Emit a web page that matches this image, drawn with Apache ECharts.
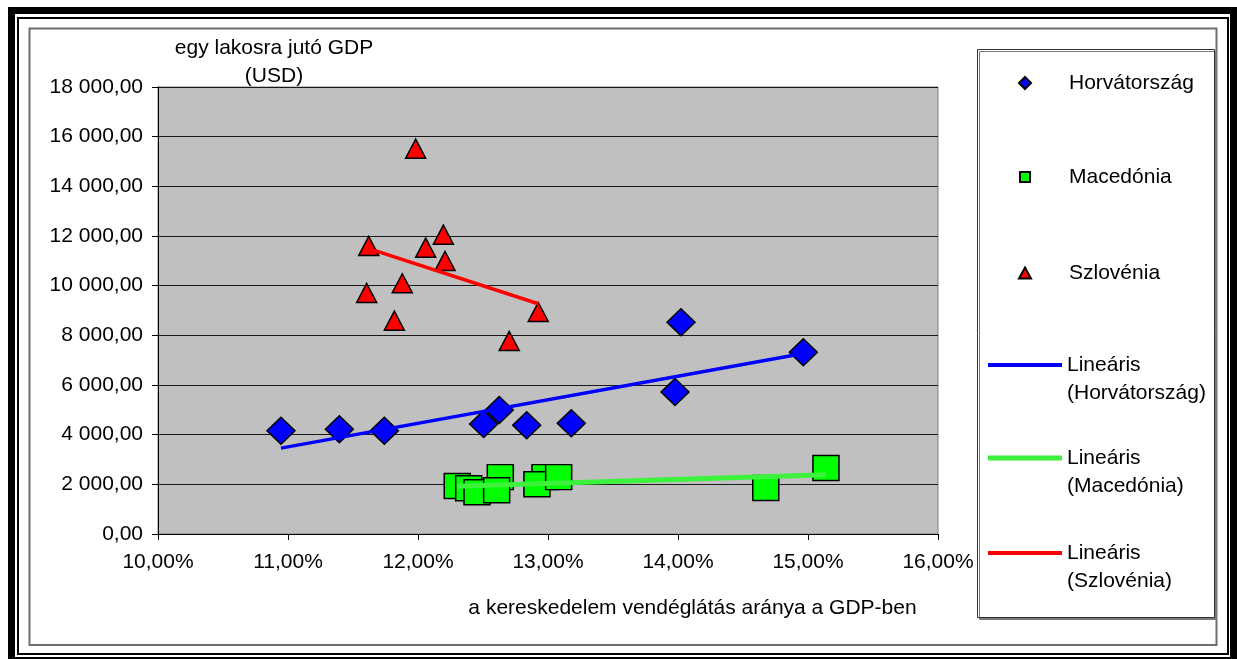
<!DOCTYPE html>
<html>
<head>
<meta charset="utf-8">
<script src="https://cdn.jsdelivr.net/npm/echarts@6/dist/echarts.min.js"></script>
<style>
html,body{margin:0;padding:0;background:#fff;}
#chart{width:1237px;height:659px;}
</style>
</head>
<body>
<div id="chart"></div>
<script>
// ---- data (x: share of trade & hospitality in GDP, %; y: GDP per capita, USD) ----
const horvX = [10.946, 11.395, 11.741, 12.505, 12.625, 12.836, 13.179, 14.023, 13.977, 14.964];
const horvY = [4160, 4216, 4160, 4430, 4993, 4377, 4458, 8525, 5718, 7317];
const macX  = [12.302, 12.390, 12.454, 12.633, 12.605, 12.977, 12.915, 13.082, 14.675, 15.138];
const macY  = [1935, 1840, 1680, 2290, 1760, 2290, 2000, 2290, 1850, 2660];
const szloX = [11.982, 11.621, 12.059, 12.195, 12.208, 11.879, 11.605, 11.818, 12.925, 12.702];
const szloY = [15516, 11598, 11529, 12053, 10994, 10096, 9705, 8590, 8940, 7772];

const seriesNames = ['Horvátország', 'Macedónia', 'Szlovénia'];
const trendNames = ['Lineáris\n(Horvátország)', 'Lineáris\n(Macedónia)', 'Lineáris\n(Szlovénia)'];

const xTickLabels = ['10,00%', '11,00%', '12,00%', '13,00%', '14,00%', '15,00%', '16,00%'];
const yTickLabels = ['0,00', '2 000,00', '4 000,00', '6 000,00', '8 000,00', '10 000,00',
                     '12 000,00', '14 000,00', '16 000,00', '18 000,00'];
const xMin = 10, xMax = 16, xStep = 1;
const yMin = 0, yMax = 18000, yStep = 2000;

const yAxisTitle = 'egy lakosra jutó GDP\n(USD)';
const xAxisTitle = 'a kereskedelem vendéglátás aránya a GDP-ben';

// least-squares linear trend (Excel "Lineáris" trendline), drawn between min and max x
function linearTrend(xs, ys) {
  const n = xs.length;
  const mx = xs.reduce((a, b) => a + b, 0) / n;
  const my = ys.reduce((a, b) => a + b, 0) / n;
  let sxy = 0, sxx = 0;
  for (let i = 0; i < n; i++) { sxy += (xs[i] - mx) * (ys[i] - my); sxx += (xs[i] - mx) * (xs[i] - mx); }
  const b = sxy / sxx, a = my - b * mx;
  const x0 = Math.min(...xs), x1 = Math.max(...xs);
  return [[x0, a + b * x0], [x1, a + b * x1]];
}
const zip = (xs, ys) => xs.map((x, i) => [x, ys[i]]);

const FONT = '"Liberation Sans", Arial, sans-serif';
const FS = 21;
const TEXT_X = 1068;

const chart = echarts.init(document.getElementById('chart'), null, {renderer: 'canvas'});

// legend for a marker series: small symbol centred at (1024, cy), text starting at TEXT_X
function markerLegend(name, icon, w, h, cy) {
  const left = 1024 - w / 2;
  return {
    data: [{name: name, icon: icon}],
    orient: 'vertical',
    left: left,
    top: cy - 14,
    padding: 0,
    itemWidth: w,
    itemHeight: h,
    itemGap: 0,
    selectedMode: false,
    textStyle: {
      fontFamily: FONT, fontSize: FS, color: '#000', lineHeight: 28,
      padding: [0, 0, 0, TEXT_X - (left + w + 5)]
    }
  };
}
// legend for a trend line: line from x=988 to 1062 at cy, two text lines at cy and cy+28
function lineLegend(name, thick, cy) {
  return {
    data: [{name: name, icon: 'rect'}],
    orient: 'vertical',
    left: 988,
    top: cy - 42,
    padding: 0,
    itemWidth: 74,
    itemHeight: thick,
    selectedMode: false,
    formatter: n => '\n' + n,
    textStyle: {fontFamily: FONT, fontSize: FS, color: '#000', lineHeight: 28}
  };
}

const option = {
  animation: false,
  backgroundColor: '#ffffff',
  textStyle: {fontFamily: FONT},
  grid: {
    left: 158, right: 299, top: 87, bottom: 125,
    show: true, backgroundColor: '#c0c0c0', borderColor: '#808080', borderWidth: 1,
    containLabel: false, outerBoundsMode: 'none'
  },
  legend: [
    markerLegend(seriesNames[0], 'diamond', 12, 12, 83),
    markerLegend(seriesNames[1], 'rect', 10, 10, 177),
    markerLegend(seriesNames[2], 'triangle', 12, 11, 273),
    lineLegend(trendNames[0], 4, 365),
    lineLegend(trendNames[1], 5, 458),
    lineLegend(trendNames[2], 4, 553)
  ],
  xAxis: {
    type: 'value', min: xMin, max: xMax, interval: xStep,
    name: xAxisTitle, nameLocation: 'middle', nameGap: 64,
    nameMoveOverlap: false,
    nameTextStyle: {fontFamily: FONT, fontSize: FS, color: '#000', padding: [0, 0, 0, 289]},
    axisLine: {show: true, onZero: false, lineStyle: {color: '#000', width: 1}},
    axisTick: {show: true, inside: false, length: 6, lineStyle: {color: '#000'}},
    axisLabel: {
      margin: 18, color: '#000', fontFamily: FONT, fontSize: FS,
      formatter: v => xTickLabels[Math.round((v - xMin) / xStep)]
    },
    splitLine: {show: false}
  },
  yAxis: {
    type: 'value', min: yMin, max: yMax, interval: yStep,
    name: yAxisTitle, nameLocation: 'end', nameGap: -3,
    nameMoveOverlap: false,
    nameTextStyle: {fontFamily: FONT, fontSize: FS, color: '#000', lineHeight: 28, align: 'center', padding: [0, 0, 0, 232]},
    axisLine: {show: true, onZero: false, lineStyle: {color: '#000', width: 1}},
    axisTick: {show: true, inside: false, length: 6, lineStyle: {color: '#000'}},
    axisLabel: {
      margin: 15, color: '#000', fontFamily: FONT, fontSize: FS,
      formatter: v => yTickLabels[Math.round((v - yMin) / yStep)]
    },
    splitLine: {show: true, lineStyle: {color: '#1a1a1a', width: 1}}
  },
  graphic: [
    {type: 'rect', z: -10, silent: true, shape: {x: 11.5, y: 10.5, width: 1222, height: 650},
     style: {fill: 'none', stroke: '#000', lineWidth: 7}},
    {type: 'rect', z: -10, silent: true, shape: {x: 18, y: 18, width: 1210, height: 636},
     style: {fill: 'none', stroke: '#000', lineWidth: 2}},
    {type: 'rect', z: -10, silent: true, shape: {x: 29.5, y: 28.5, width: 1187, height: 616.5},
     style: {fill: 'none', stroke: '#6e6e6e', lineWidth: 2}},
    {type: 'rect', z: -5, silent: true, shape: {x: 977.5, y: 49.5, width: 237, height: 568},
     style: {fill: '#fff', stroke: '#333', lineWidth: 1,
             shadowColor: '#7a7a7a', shadowOffsetX: 2, shadowOffsetY: 2, shadowBlur: 0}}
  ],
  series: [
    {
      name: seriesNames[0], type: 'scatter', data: zip(horvX, horvY),
      symbol: 'diamond', symbolSize: [28, 27], z: 3,
      itemStyle: {color: '#0000ff', borderColor: '#000', borderWidth: 1.5, opacity: 1}
    },
    {
      name: seriesNames[1], type: 'scatter', data: zip(macX, macY),
      symbol: 'rect', symbolSize: [26, 25], z: 3,
      itemStyle: {color: '#00ff00', borderColor: '#000', borderWidth: 1.5, opacity: 1}
    },
    {
      name: seriesNames[2], type: 'scatter', data: zip(szloX, szloY),
      symbol: 'triangle', symbolSize: [20, 19], z: 3,
      itemStyle: {color: '#ff0000', borderColor: '#000', borderWidth: 1.5, opacity: 1}
    },
    {
      name: trendNames[0], type: 'line', data: linearTrend(horvX, horvY),
      symbol: 'none', showSymbol: false, z: 4, silent: true,
      lineStyle: {color: '#0000ff', width: 3.5}, itemStyle: {color: '#0000ff'}
    },
    {
      name: trendNames[1], type: 'line', data: linearTrend(macX, macY),
      symbol: 'none', showSymbol: false, z: 4, silent: true,
      lineStyle: {color: '#3cf23c', width: 5}, itemStyle: {color: '#3cf23c'}
    },
    {
      name: trendNames[2], type: 'line', data: linearTrend(szloX, szloY),
      symbol: 'none', showSymbol: false, z: 4, silent: true,
      lineStyle: {color: '#ff0000', width: 3.5}, itemStyle: {color: '#ff0000'}
    }
  ]
};
chart.setOption(option);
</script>
</body>
</html>
